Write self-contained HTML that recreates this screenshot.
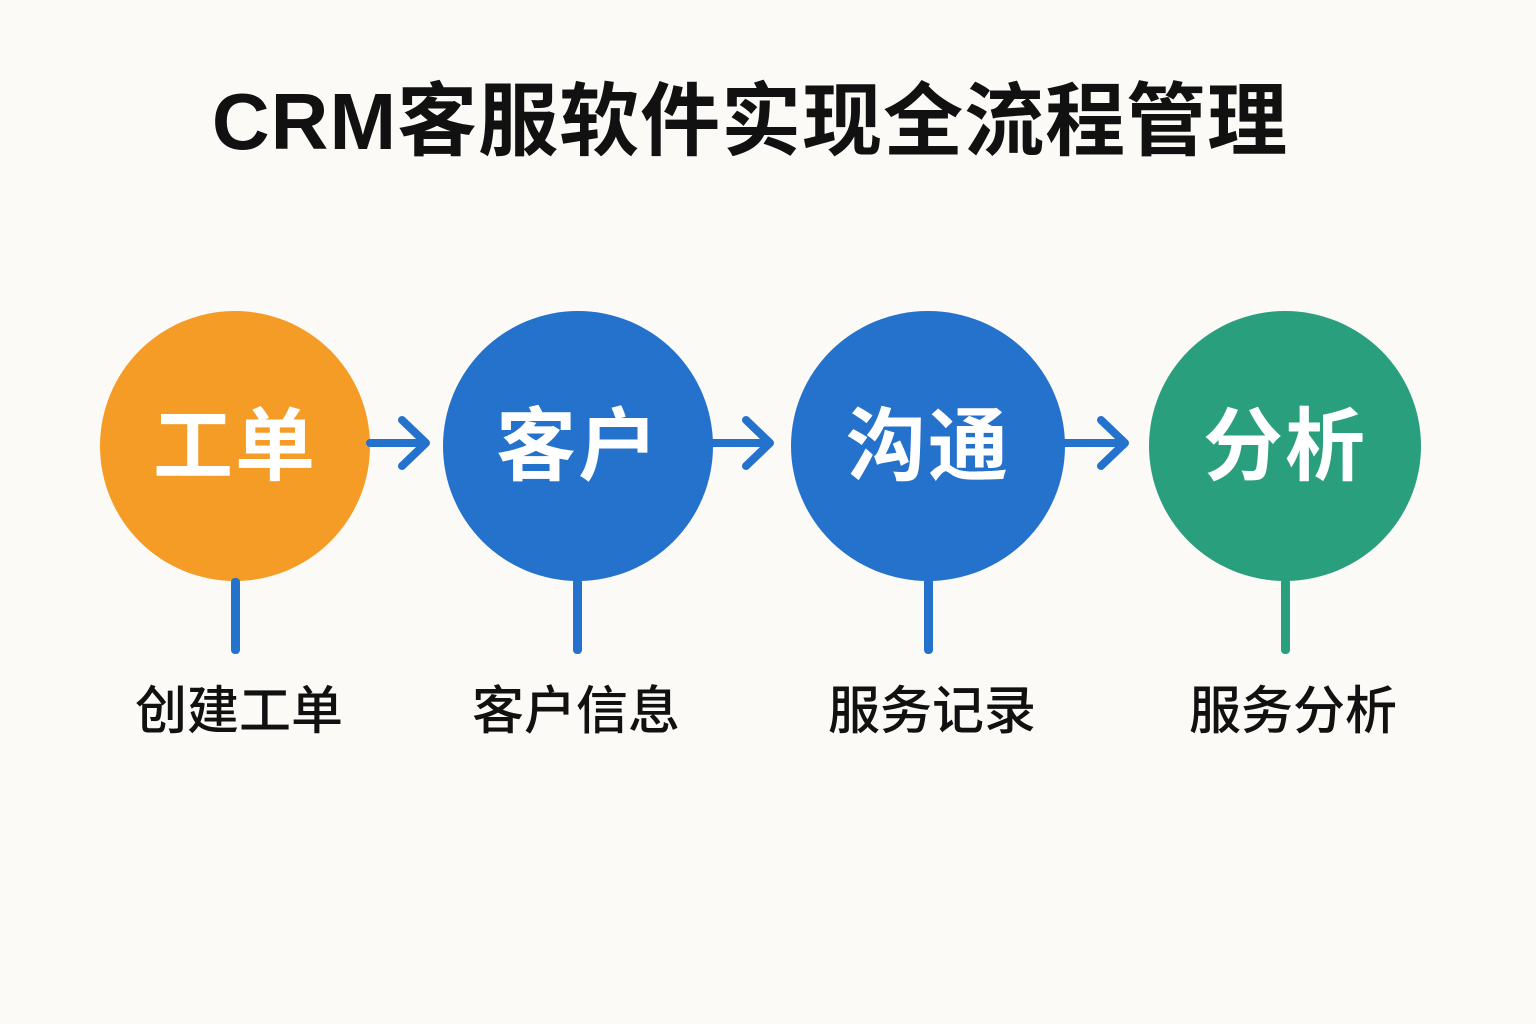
<!DOCTYPE html>
<html><head><meta charset="utf-8"><style>
html,body{margin:0;padding:0;background:#FBFAF6;}
.wrap{position:relative;width:1536px;height:1024px;overflow:hidden;background:#FBFAF6;font-family:"Liberation Sans","Noto Sans CJK SC",sans-serif;}
.title{position:absolute;left:0;width:1500px;top:72px;text-align:center;font-size:80px;font-weight:700;color:#111;line-height:100px;letter-spacing:1px;}
.c{position:absolute;border-radius:50%;color:#fff;font-weight:700;font-size:80px;display:flex;align-items:center;justify-content:center;letter-spacing:2px;}
.c span{position:relative;top:-6px;}
.stem{position:absolute;width:9px;border-radius:4px;top:578px;height:76px;}
.lab{position:absolute;top:680px;font-size:52px;font-weight:500;color:#111;width:300px;text-align:center;line-height:64px;}
</style></head><body><div class="wrap">
<div class="title">CRM客服软件实现全流程管理</div>
<div class="c" style="left:100px;top:311px;width:270px;height:270px;background:#F59C26"><span>工单</span></div>
<div class="c" style="left:443px;top:311px;width:270px;height:270px;background:#2472CC"><span>客户</span></div>
<div class="c" style="left:791px;top:311px;width:274px;height:270px;background:#2472CC"><span>沟通</span></div>
<div class="c" style="left:1149px;top:311px;width:272px;height:270px;background:#2A9F7D"><span>分析</span></div>
<svg style="position:absolute;left:0;top:0" width="1536" height="1024">
<g stroke="#2472CC" stroke-width="8" fill="none" stroke-linecap="round" stroke-linejoin="round">
<path d="M370 443H426M402 420L426 443L402 466"/>
<path d="M713 443H770M746 420L770 443L746 466"/>
<path d="M1065 443H1125M1101 420L1125 443L1101 466"/>
</g></svg>
<div class="stem" style="left:231px;background:#2472CC"></div>
<div class="stem" style="left:573px;background:#2472CC"></div>
<div class="stem" style="left:924px;background:#2472CC"></div>
<div class="stem" style="left:1281px;background:#2A9F7D"></div>
<div class="lab" style="left:89px">创建工单</div>
<div class="lab" style="left:426px">客户信息</div>
<div class="lab" style="left:782px">服务记录</div>
<div class="lab" style="left:1143px">服务分析</div>
</div></body></html>
